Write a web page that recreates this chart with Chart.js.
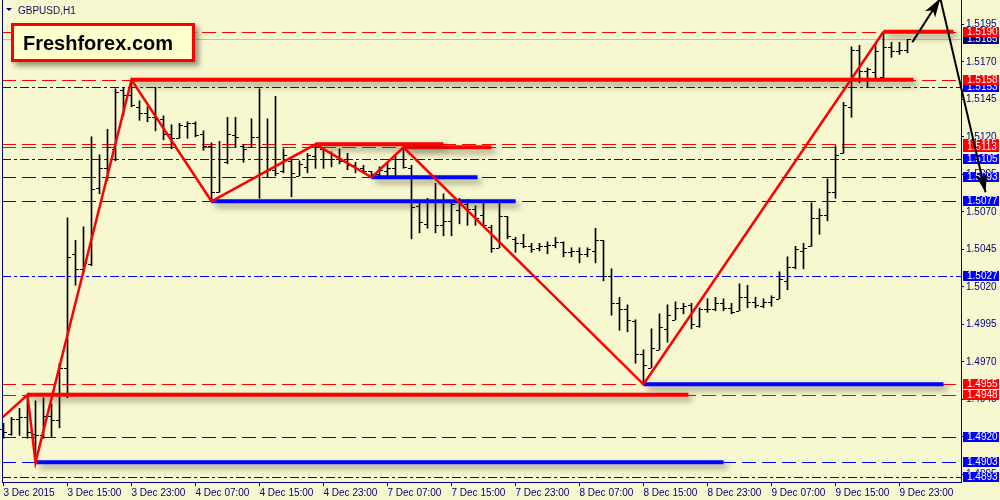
<!DOCTYPE html>
<html>
<head>
<meta charset="utf-8">
<script src="https://cdn.jsdelivr.net/npm/chart.js@4.4.0/dist/chart.umd.min.js"></script>
<style>
  html, body { margin: 0; padding: 0; background: #F7F7D0; }
  canvas { display: block; }
</style>
</head>
<body>
<canvas id="priceChart" width="1000" height="500"></canvas>
<script>
// GBPUSD H1, one entry per hourly bar (index 0 = first visible bar)
const timeLabels = ['3 Dec 2015', '3 Dec 15:00', '3 Dec 23:00', '4 Dec 07:00', '4 Dec 15:00',
  '4 Dec 23:00', '7 Dec 07:00', '7 Dec 15:00', '7 Dec 23:00', '8 Dec 07:00', '8 Dec 15:00',
  '8 Dec 23:00', '9 Dec 07:00', '9 Dec 15:00', '9 Dec 23:00'];

const opens = [
  1.4925, 1.4922, 1.4932, 1.4933, 1.4922, 1.4921, 1.4934, 1.4931, 1.4966, 1.5042,
  1.5032, 1.5035, 1.5086, 1.5099, 1.5112, 1.5151, 1.5148, 1.5140, 1.5136, 1.5133,
  1.5132, 1.5122, 1.5119, 1.5127, 1.5129, 1.5122, 1.5114, 1.5083, 1.5103, 1.5121,
  1.5114, 1.5113, 1.5120, 1.5113, 1.5098, 1.5097, 1.5104, 1.5094, 1.5100, 1.5107,
  1.5112, 1.5105, 1.5105, 1.5104, 1.5101, 1.5099, 1.5097, 1.5095, 1.5097, 1.5099,
  1.5105, 1.5099, 1.5074, 1.5062, 1.5077, 1.5061, 1.5064, 1.5071, 1.5075, 1.5072,
  1.5068, 1.5060, 1.5046, 1.5067, 1.5052, 1.5049, 1.5047, 1.5046, 1.5047, 1.5048,
  1.5050, 1.5043, 1.5044, 1.5042, 1.5044, 1.5051, 1.5027, 1.5009, 1.5005, 1.4997,
  1.4975, 1.4966, 1.4978, 1.4992, 1.4998, 1.5006, 1.5008, 1.4994, 1.5005, 1.5005,
  1.5009, 1.5006, 1.5004, 1.5013, 1.5010, 1.5007, 1.5010, 1.5012, 1.5024, 1.5033,
  1.5044, 1.5047, 1.5066, 1.5068, 1.5083, 1.5109, 1.5140, 1.5178, 1.5164, 1.5163,
  1.5160, 1.5180, 1.5177, 1.5178];
const highs = [
  1.4929, 1.4933, 1.4939, 1.4948, 1.4944, 1.4946, 1.4942, 1.4969, 1.5066, 1.5051,
  1.5060, 1.5120, 1.5108, 1.5125, 1.5152, 1.5153, 1.5158, 1.5144, 1.5140, 1.5153,
  1.5134, 1.5128, 1.5129, 1.5130, 1.5130, 1.5124, 1.5116, 1.5117, 1.5133, 1.5133,
  1.5115, 1.5132, 1.5152, 1.5132, 1.5147, 1.5112, 1.5105, 1.5104, 1.5109, 1.5115,
  1.5112, 1.5110, 1.5112, 1.5109, 1.5103, 1.5101, 1.5097, 1.5100, 1.5103, 1.5107,
  1.5113, 1.5101, 1.5076, 1.5079, 1.5089, 1.5082, 1.5076, 1.5079, 1.5078, 1.5074,
  1.5076, 1.5061, 1.5076, 1.5067, 1.5053, 1.5055, 1.5049, 1.5049, 1.5050, 1.5053,
  1.5050, 1.5046, 1.5046, 1.5046, 1.5059, 1.5051, 1.5032, 1.5013, 1.5008, 1.4998,
  1.4978, 1.4992, 1.5002, 1.5008, 1.5010, 1.5009, 1.5009, 1.5006, 1.5012, 1.5013,
  1.5012, 1.5009, 1.5022, 1.5021, 1.5013, 1.5012, 1.5014, 1.5030, 1.5040, 1.5047,
  1.5049, 1.5076, 1.5072, 1.5092, 1.5114, 1.5143, 1.5180, 1.5181, 1.5166, 1.5182,
  1.5190, 1.5183, 1.5183, 1.5185];
const lows = [
  1.4919, 1.4921, 1.4921, 1.4919, 1.4903, 1.4919, 1.4920, 1.4926, 1.4946, 1.5021,
  1.5029, 1.5034, 1.5082, 1.5091, 1.5104, 1.5134, 1.5140, 1.5131, 1.5130, 1.5124,
  1.5118, 1.5112, 1.5119, 1.5119, 1.5120, 1.5111, 1.5077, 1.5083, 1.5102, 1.5113,
  1.5103, 1.5113, 1.5079, 1.5093, 1.5094, 1.5096, 1.5080, 1.5094, 1.5096, 1.5099,
  1.5099, 1.5100, 1.5102, 1.5098, 1.5096, 1.5096, 1.5093, 1.5093, 1.5094, 1.5094,
  1.5099, 1.5052, 1.5056, 1.5059, 1.5056, 1.5054, 1.5054, 1.5062, 1.5061, 1.5061,
  1.5060, 1.5043, 1.5046, 1.5052, 1.5043, 1.5046, 1.5043, 1.5044, 1.5042, 1.5046,
  1.5040, 1.5040, 1.5036, 1.5040, 1.5036, 1.5024, 1.5001, 1.4991, 1.4990, 1.4969,
  1.4955, 1.4966, 1.4978, 1.4983, 1.4998, 1.5002, 1.4992, 1.4993, 1.5003, 1.5004,
  1.5004, 1.5002, 1.5004, 1.5006, 1.5006, 1.5006, 1.5007, 1.5012, 1.5018, 1.5032,
  1.5032, 1.5047, 1.5055, 1.5064, 1.5079, 1.5109, 1.5133, 1.5156, 1.5153, 1.5158,
  1.5158, 1.5173, 1.5175, 1.5176];
const closes = [
  1.4923, 1.4932, 1.4933, 1.4923, 1.4921, 1.4934, 1.4931, 1.4966, 1.5040, 1.5032,
  1.5036, 1.5085, 1.5099, 1.5113, 1.5150, 1.5148, 1.5141, 1.5136, 1.5133, 1.5132,
  1.5122, 1.5119, 1.5128, 1.5129, 1.5121, 1.5114, 1.5083, 1.5105, 1.5122, 1.5120,
  1.5112, 1.5120, 1.5113, 1.5098, 1.5096, 1.5108, 1.5096, 1.5102, 1.5108, 1.5113,
  1.5105, 1.5105, 1.5104, 1.5101, 1.5099, 1.5097, 1.5095, 1.5098, 1.5099, 1.5105,
  1.5100, 1.5073, 1.5063, 1.5077, 1.5061, 1.5064, 1.5075, 1.5075, 1.5072, 1.5066,
  1.5061, 1.5046, 1.5067, 1.5054, 1.5049, 1.5047, 1.5045, 1.5047, 1.5048, 1.5050,
  1.5043, 1.5044, 1.5042, 1.5045, 1.5051, 1.5027, 1.5009, 1.5005, 1.4998, 1.4975,
  1.4968, 1.4979, 1.4993, 1.5001, 1.5006, 1.5007, 1.4995, 1.5005, 1.5005, 1.5009,
  1.5006, 1.5003, 1.5013, 1.5010, 1.5008, 1.5010, 1.5013, 1.5025, 1.5033, 1.5045,
  1.5046, 1.5066, 1.5068, 1.5083, 1.5108, 1.5141, 1.5178, 1.5164, 1.5165, 1.5177,
  1.5180, 1.5177, 1.5178, 1.5185];

const priceTicks = [1.4895, 1.4920, 1.4945, 1.4970, 1.4995, 1.5020, 1.5045,
  1.5070, 1.5095, 1.5120, 1.5145, 1.5170, 1.5195];

// horizontal levels across the whole chart, with their right-hand price tags
const levelPrices = [1.5190, 1.5185, 1.5158, 1.5153, 1.5115, 1.5113, 1.5105,
  1.5093, 1.5077, 1.5027, 1.4955, 1.4948, 1.4920, 1.4903, 1.4893];
const levelKinds = ['red', 'bid', 'red', 'blueDot', 'red', 'red', 'blueDot',
  'blue', 'blue', 'blueDot', 'red', 'red', 'blue', 'blue', 'blueDot'];

// zigzag through the swing points (bar index, price)
const zigIndex = [-0.1, 3, 4, 16, 26, 39, 46, 50, 80, 110];
const zigPrice = [1.4933, 1.4948, 1.4903, 1.5158, 1.5077, 1.5115, 1.5093, 1.5113, 1.4955, 1.5190];

// thick support / resistance segments
const redSegStart = [16, 110, 39, 50, 3];
const redSegEnd = [113.75, 118.75, 55, 61, 85.6];
const redSegPrice = [1.5158, 1.5190, 1.5115, 1.5113, 1.4948];
const blueSegStart = [46, 26, 80, 4];
const blueSegEnd = [59.25, 64, 117.5, 90];
const blueSegPrice = [1.5093, 1.5077, 1.4955, 1.4903];

// forecast arrows
const arrowUpIndex = [113.6, 117.1];
const arrowUpPrice = [1.5183, 1.52123];
const arrowDownIndex = [117.1, 122.75];
const arrowDownPrice = [1.52123, 1.5083];

const BG = '#F7F7D0';
const NAVY = '#000080';
const kindStyle = {
  red: { color: '#FF0000', dash: [14, 6], tag: '#FF0000' },
  bid: { color: '#C0C0C0', dash: [], tag: NAVY },
  blue: { color: '#0000FF', dash: [14, 6], tag: '#0000FF' },
  blueDot: { color: '#0000FF', dash: [9, 3, 3, 3], tag: '#0000FF' }
};

function segment(start, end, price, color) {
  return {
    type: 'line',
    data: [{ x: start, y: price }, { x: end, y: price }],
    borderColor: color,
    borderWidth: 4,
    pointRadius: 0,
    shadow: true,
    order: 2
  };
}

function arrow(xs, ys) {
  return {
    type: 'line',
    data: xs.map((x, k) => ({ x: x, y: ys[k] })),
    borderColor: '#000000',
    borderWidth: 2,
    pointRadius: 0,
    clip: false,
    arrowHead: true,
    order: 0
  };
}

// no automatic padding from label overhang: keep the plot edge where the terminal has it
function noPadding(scale) {
  scale.paddingLeft = 0;
  scale.paddingRight = 0;
  scale.paddingTop = 0;
  scale.paddingBottom = 0;
}

const datasets = [{
  type: 'bar',
  data: highs.map((h, i) => ({ x: i, y: [lows[i], h] })),
  backgroundColor: '#000000',
  borderWidth: 0,
  barThickness: 1,
  order: 10
}];
redSegStart.forEach((s, k) => datasets.push(segment(s, redSegEnd[k], redSegPrice[k], '#FF0000')));
blueSegStart.forEach((s, k) => datasets.push(segment(s, blueSegEnd[k], blueSegPrice[k], '#0000FF')));
datasets.push({
  type: 'line',
  data: zigIndex.map((x, k) => ({ x: x, y: zigPrice[k] })),
  borderColor: '#FF0000',
  borderWidth: 2.5,
  pointRadius: 0,
  order: 1
});
datasets.push(arrow(arrowUpIndex, arrowUpPrice));
datasets.push(arrow(arrowDownIndex, arrowDownPrice));

const terminalLook = {
  id: 'terminalLook',
  beforeDraw(chart) {
    const ctx = chart.ctx;
    ctx.save();
    ctx.fillStyle = BG;
    ctx.fillRect(0, 0, chart.width, chart.height);
    ctx.restore();
  },
  beforeDatasetsDraw(chart) {
    const { ctx, chartArea, scales } = chart;
    ctx.save();
    ctx.lineWidth = 1;
    levelPrices.forEach((p, k) => {
      const st = kindStyle[levelKinds[k]];
      const y = Math.round(scales.y.getPixelForValue(p)) + 0.5;
      ctx.strokeStyle = st.color;
      ctx.setLineDash(st.dash);
      ctx.beginPath();
      ctx.moveTo(chartArea.left, y);
      ctx.lineTo(chartArea.right, y);
      ctx.stroke();
    });
    ctx.setLineDash([]);

    // price tags on the right scale (the forecast arrow is drawn over them)
    ctx.font = '10px "Liberation Sans", Arial, sans-serif';
    ctx.textBaseline = 'middle';
    const order = levelPrices.map((p, k) => k)
      .sort((a, b) => (levelKinds[a] === 'red') - (levelKinds[b] === 'red') || a - b);
    order.forEach(k => {
      const st = kindStyle[levelKinds[k]];
      const y = Math.round(scales.y.getPixelForValue(levelPrices[k]));
      ctx.fillStyle = st.tag;
      ctx.fillRect(chartArea.right + 2, y - 5, 36, 10);
      ctx.fillStyle = '#FFFFFF';
      ctx.fillText(levelPrices[k].toFixed(4), chartArea.right + 6, y + 0.5);
    });
    ctx.restore();
  },
  beforeDatasetDraw(chart, args) {
    if (args.meta._dataset.shadow) {
      const ctx = chart.ctx;
      ctx.save();
      ctx.shadowColor = 'rgba(60,60,40,0.55)';
      ctx.shadowBlur = 6;
      ctx.shadowOffsetX = 4;
      ctx.shadowOffsetY = 4;
    }
  },
  afterDatasetDraw(chart, args) {
    const ctx = chart.ctx;
    const ds = args.meta._dataset;
    if (ds.shadow) ctx.restore();
    if (args.index === 0) {
      // open / close ticks of the OHLC bars
      const { x, y } = chart.scales;
      ctx.save();
      ctx.fillStyle = '#000000';
      opens.forEach((o, i) => {
        const px = Math.round(x.getPixelForValue(i) - 0.5);
        ctx.fillRect(px - 3, Math.round(y.getPixelForValue(o)), 3, 1);
        ctx.fillRect(px + 1, Math.round(y.getPixelForValue(closes[i])), 3, 1);
      });
      ctx.restore();
    }
  },
  afterDatasetsDraw(chart) {
    const ctx = chart.ctx;
    chart.data.datasets.forEach((ds, di) => {
      if (!ds.arrowHead) return;
      // filled head at the last point, pointing along the last segment
      const pts = chart.getDatasetMeta(di).data;
      const a = pts[pts.length - 2], b = pts[pts.length - 1];
      const ang = Math.atan2(b.y - a.y, b.x - a.x);
      const len = 19, half = 6;
      ctx.save();
      ctx.fillStyle = '#000000';
      ctx.translate(b.x, b.y);
      ctx.rotate(ang);
      ctx.beginPath();
      ctx.moveTo(0, 0);
      ctx.lineTo(-len, -half);
      ctx.lineTo(-len + 5, 0);
      ctx.lineTo(-len, half);
      ctx.closePath();
      ctx.fill();
      ctx.restore();
    });
  },
  afterDraw(chart) {
    const { ctx, chartArea } = chart;
    ctx.save();
    // left frame line
    ctx.strokeStyle = NAVY;
    ctx.lineWidth = 1;
    ctx.beginPath();
    ctx.moveTo(chartArea.left + 0.5, 0);
    ctx.lineTo(chartArea.left + 0.5, chartArea.bottom);
    ctx.stroke();

    // symbol caption
    ctx.fillStyle = NAVY;
    ctx.beginPath();
    ctx.moveTo(6, 8);
    ctx.lineTo(12, 8);
    ctx.lineTo(9, 11);
    ctx.closePath();
    ctx.fill();
    ctx.fillStyle = '#101050';
    ctx.font = '10px "Liberation Sans", Arial, sans-serif';
    ctx.textBaseline = 'alphabetic';
    ctx.fillText('GBPUSD,H1', 18, 14);

    // watermark box
    ctx.shadowColor = 'rgba(60,60,40,0.5)';
    ctx.shadowBlur = 5;
    ctx.shadowOffsetX = 4;
    ctx.shadowOffsetY = 4;
    ctx.fillStyle = '#FFFFCC';
    ctx.fillRect(11, 23, 184, 39);
    ctx.shadowColor = 'transparent';
    ctx.strokeStyle = '#FF0000';
    ctx.lineWidth = 3;
    ctx.strokeRect(12.5, 24.5, 181, 36);
    ctx.fillStyle = '#000000';
    ctx.font = 'bold 20px "Liberation Sans", Arial, sans-serif';
    ctx.fillText('Freshforex.com', 23, 50);
    ctx.restore();
  }
};

new Chart(document.getElementById('priceChart'), {
  type: 'line',
  data: { datasets: datasets },
  options: {
    responsive: false,
    devicePixelRatio: 1,
    animation: false,
    events: [],
    layout: { autoPadding: false, padding: { left: 2, top: 0, right: 0, bottom: 0 } },
    plugins: { legend: { display: false }, tooltip: { enabled: false } },
    scales: {
      x: {
        type: 'linear',
        offset: false,
        min: -0.1875,
        max: 119.6875,
        afterFit(scale) { scale.height = 18; noPadding(scale); },
        afterBuildTicks(scale) { scale.ticks = timeLabels.map((t, k) => ({ value: k * 8 })); },
        grid: { drawOnChartArea: false, color: NAVY, tickLength: 4, offset: false },
        border: { color: NAVY },
        ticks: {
          callback: (v, i) => timeLabels[i],
          align: 'start',
          maxRotation: 0,
          autoSkip: false,
          padding: 1,
          color: NAVY,
          font: { family: '"Liberation Sans", Arial, sans-serif', size: 10 }
        }
      },
      y: {
        position: 'right',
        min: 1.488987,
        max: 1.52112,
        afterFit(scale) { scale.width = 39; noPadding(scale); },
        afterBuildTicks(scale) { scale.ticks = priceTicks.map(v => ({ value: v })); },
        grid: { drawOnChartArea: false, color: NAVY, tickLength: 3 },
        border: { color: NAVY },
        ticks: {
          callback: v => v.toFixed(4),
          padding: 2,
          color: NAVY,
          font: { family: '"Liberation Sans", Arial, sans-serif', size: 10 }
        }
      }
    }
  },
  plugins: [terminalLook]
});
</script>
</body>
</html>
